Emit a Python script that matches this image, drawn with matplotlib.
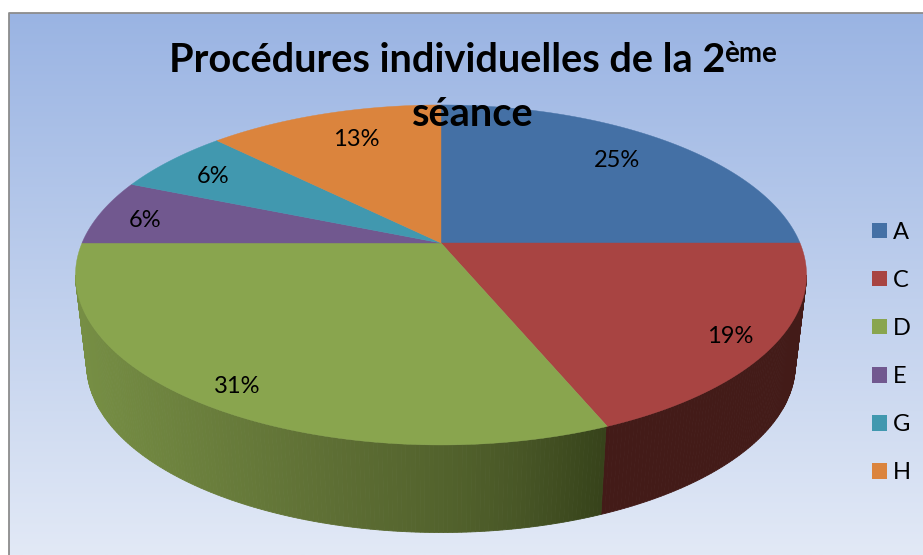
import numpy as np
import matplotlib
matplotlib.use('Agg')
import matplotlib.pyplot as plt
from matplotlib.patches import Patch

# data
categories = ['A', 'C', 'D', 'E', 'G', 'H']
counts = [4, 3, 5, 1, 1, 2]
pct_labels = ['25%', '19%', '31%', '6%', '6%', '13%']
title_line1 = 'Procédures individuelles de la 2'
title_sup = 'ème'
title_line2 = 'séance'

colors = ['#4470A5', '#A84442', '#89A54E', '#71588F', '#4198AF', '#DB843D']
side_red = '#431B18'

W, H = 923, 555
CX = 441
P = 0.188


def top_point(theta, r=1.0):
    # theta clockwise from 12 o'clock, perspective of the pie top
    u, v = r * np.sin(theta), r * np.cos(theta)
    d = 1 + P * v
    return CX + 359 * u / d, 243 - 164 * v / d


def bottom_point(theta):
    u, v = np.sin(theta), np.cos(theta)
    d = 1 + P * v
    return CX + 348 * u / d, 333 - 162 * v / d


def green_shade(x):
    xs = [85, 320, 450, 520, 605]
    rs = [0x76, 0x5F, 0x52, 0x48, 0x36]
    gs = [0x8E, 0x70, 0x62, 0x56, 0x42]
    bs = [0x44, 0x35, 0x2C, 0x26, 0x1A]
    return (np.interp(x, xs, rs) / 255, np.interp(x, xs, gs) / 255, np.interp(x, xs, bs) / 255)


fig = plt.figure(figsize=(W / 100, H / 100), dpi=100, facecolor='white')
ax = fig.add_axes([0, 0, 1, 1])
ax.set_xlim(0, W)
ax.set_ylim(H, 0)
ax.axis('off')

# background
grad = np.linspace(0, 1, 256).reshape(-1, 1, 1)
top_c = np.array([0x9A, 0xB4, 0xE3]).reshape(1, 1, 3) / 255
bot_c = np.array([0xE2, 0xE9, 0xF6]).reshape(1, 1, 3) / 255
ax.imshow(top_c + (bot_c - top_c) * grad, extent=[9, W, H, 13], aspect='auto', zorder=0)
ax.plot([9, 9, W], [H, 12.5, 12.5], color='#8C8C8C', lw=1.3, zorder=1)
ax.set_xlim(0, W)
ax.set_ylim(H, 0)

fractions = np.array(counts) / sum(counts)
edges = np.concatenate([[0], np.cumsum(fractions)]) * 2 * np.pi

# side of the pie, only the part facing the viewer
start_side = np.pi - np.arccos(P)
end_side = np.pi + np.arccos(P)
thetas = np.linspace(start_side, end_side, 260)
for a, b in zip(thetas[:-1], thetas[1:]):
    mid = (a + b) / 2
    xa, ya = top_point(a)
    xb, yb = top_point(b)
    xc, yc = bottom_point(b)
    xd, yd = bottom_point(a)
    if mid < edges[2]:
        c = side_red
    else:
        c = green_shade((xa + xb + xc + xd) / 4)
    ax.fill([xa, xb, xc, xd], [ya, yb, yc, yd], color=c, lw=0.6, zorder=2)

# top of the pie
for i in range(len(counts)):
    t = np.linspace(edges[i], edges[i + 1], 120)
    xs, ys = top_point(t)
    cx0, cy0 = top_point(0.0, 0.0)
    ax.fill(np.r_[cx0, xs], np.r_[cy0, ys], color=colors[i], lw=0.3, zorder=3)

# percent labels
label_shift = [(-8, 1), (29, 14), (-21, 19), (-22, 2), (-8, 1), (12, 3)]
for i in range(len(counts)):
    mid = (edges[i] + edges[i + 1]) / 2
    lx, ly = top_point(mid, 0.8)
    ax.text(lx + label_shift[i][0], ly + label_shift[i][1], pct_labels[i],
            family='Lato', fontsize=17, color='black', ha='center', va='center', zorder=5)

# title
ax.text(169, 61, title_line1, family='Lato', fontweight='bold', fontsize=28.6, ha='left', va='center', zorder=6)
ax.text(724, 54, title_sup, family='Lato', fontweight='bold', fontsize=20, ha='left', va='center', zorder=6)
ax.text(472.5, 114, title_line2, family='Lato', fontweight='bold', fontsize=28.6, ha='center', va='center', zorder=6)

# legend
handles = [Patch(facecolor=c, edgecolor='none') for c in colors]
leg = ax.legend(handles, categories, loc='center left', bbox_to_anchor=(0.9445, 0.3648), frameon=False,
                prop={'family': 'Lato', 'size': 17}, handlelength=0.64, handleheight=0.64,
                handletextpad=0.25, labelspacing=1.15, borderpad=0, borderaxespad=0)
leg.set_zorder(6)

fig.savefig('out.png', dpi=100, facecolor='white')
